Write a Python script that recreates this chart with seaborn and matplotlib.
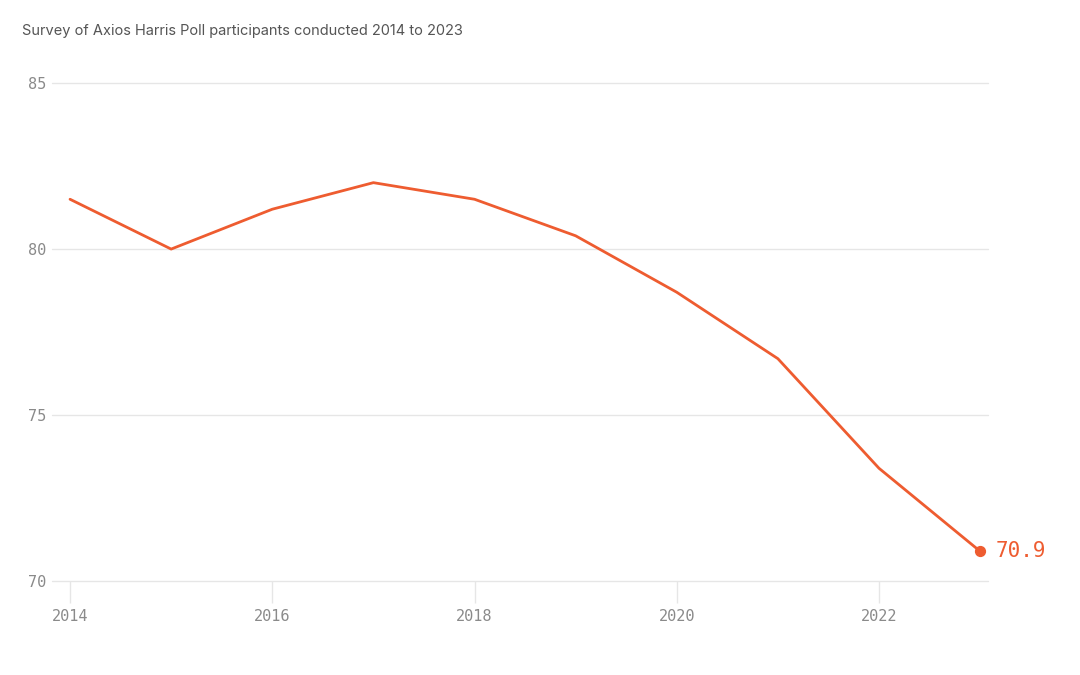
import matplotlib
matplotlib.use("Agg")
import matplotlib.pyplot as plt
import seaborn as sns
import pandas as pd

years = [2014, 2015, 2016, 2017, 2018, 2019, 2020, 2021, 2022, 2023]
scores = [81.5, 80.0, 81.2, 82.0, 81.5, 80.4, 78.7, 76.7, 73.4, 70.9]
x_ticks = [2014, 2016, 2018, 2020, 2022]
y_ticks = [70, 75, 80, 85]
subtitle = "Survey of Axios Harris Poll participants conducted 2014 to 2023"

LINE = "#EE5C30"
GRID = "#E6E6E6"
TICK = "#8A8A8A"

sns.set_style("white")
plt.rcParams["font.family"] = ["Inter", "DejaVu Sans"]

df = pd.DataFrame({"year": years, "score": scores})

fig = plt.figure(figsize=(10.8, 6.75), dpi=100)
ax = fig.add_axes([0.048, 0.139, 0.867, 0.738])

sns.lineplot(data=df, x="year", y="score", color=LINE, linewidth=2.0, ax=ax)
last = df.iloc[-1]
ax.scatter([last["year"]], [last["score"]], color=LINE, s=50, zorder=5, clip_on=False)
ax.annotate(f"{last['score']:.1f}", xy=(last["year"], last["score"]),
            xytext=(11, 0), textcoords="offset points", va="center", ha="left",
            color=LINE, fontsize=15, family="DejaVu Sans Mono")

ax.set_xlim(2013.82, 2023.08)
ax.set_ylim(70, 85)
ax.set_yticks(y_ticks)
ax.set_xticks(x_ticks)
ax.set_yticklabels([str(v) for v in y_ticks], family="DejaVu Sans Mono", color=TICK, fontsize=11)
ax.set_xticklabels([str(v) for v in x_ticks], family="DejaVu Sans Mono", color=TICK, fontsize=11)
ax.tick_params(axis="y", left=False, length=0, pad=4)
ax.tick_params(axis="x", bottom=True, length=16, width=1, color=GRID, pad=4)
ax.yaxis.grid(True, color=GRID, linewidth=1)
for gl in ax.get_ygridlines():
    gl.set_clip_on(False)
ax.set_axisbelow(True)
for s in ax.spines.values():
    s.set_visible(False)
ax.set_xlabel("")
ax.set_ylabel("")

fig.text(0.02, 1 - 31 / 675, subtitle, ha="left", va="center", fontsize=10.5, color="#555555")

fig.savefig("out.png", dpi=100, facecolor="white")
